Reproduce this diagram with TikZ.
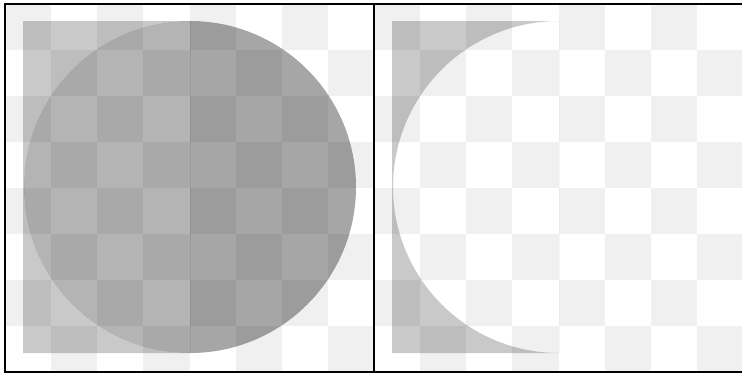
\documentclass[tikz,border=0pt]{standalone}
\usepackage{tikz}
\definecolor{cellgray}{HTML}{F0F0F0}
\tikzset{
  cell/.style={fill=cellgray},
  frame/.style={draw=black,line width=1.4pt},
  sqfill/.style={fill=black,fill opacity=0.21},
  ovfill/.style={fill=black,fill opacity=0.295},
  cifill/.style={fill=black,fill opacity=0.35}
}
\begin{document}
\begin{tikzpicture}[x=1pt,y=-1pt]
\clip (0,0) rectangle (742,373);
\fill[white] (0,0) rectangle (742,373);
% checkerboards
\foreach \px in {5,374}{
  \foreach \j in {0,...,7}{
    \foreach \i in {0,...,3}{
      \pgfmathsetmacro\cx{\px + (2*\i + mod(\j,2))*46.125}
      \pgfmathsetmacro\cy{4 + \j*46}
      \fill[cell] (\cx,\cy) rectangle ++(46.125,46);
    }
  }
}
% left panel
\coordinate (lc) at (190,187);
\begin{scope}
  \clip (23,21) rectangle (190,353);
  \fill[sqfill,even odd rule] (23,21) rectangle (190,353) (lc) circle[radius=166];
  \fill[ovfill] (lc) circle[radius=166];
\end{scope}
\begin{scope}
  \clip (190,0) rectangle (374,373);
  \fill[cifill] (lc) circle[radius=166];
\end{scope}
% right panel
\coordinate (rc) at (559,187);
\begin{scope}
  \clip (392,21) rectangle (559,353);
  \fill[sqfill,even odd rule] (392,21) rectangle (559,353) (rc) circle[radius=166];
\end{scope}
% frames
\draw[frame] (5,4) rectangle (374,372);
\draw[frame] (374,4) rectangle (744,372);
\end{tikzpicture}
\end{document}
